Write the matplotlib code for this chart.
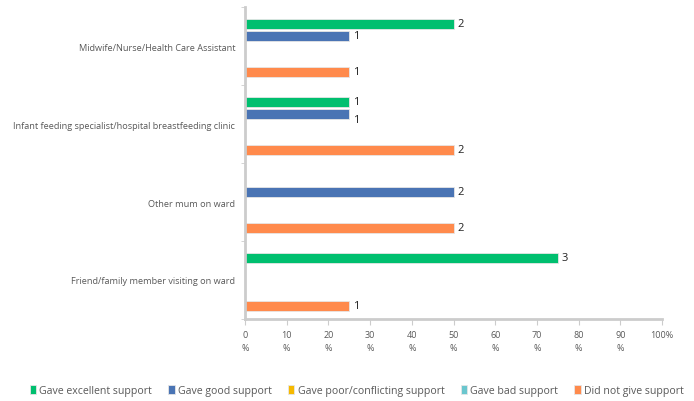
import numpy as np
import matplotlib.pyplot as plt

plt.rcParams['font.family'] = ['Open Sans', 'DejaVu Sans']

# survey answers, percent of respondents and counts
categories = ["Midwife/Nurse/Health Care Assistant",
              "Infant feeding specialist/hospital breastfeeding clinic",
              "Other mum on ward",
              "Friend/family member visiting on ward"]
series = ["Gave excellent support", "Gave good support",
          "Gave poor/conflicting support", "Gave bad support",
          "Did not give support"]
pct = {
    "Gave excellent support": [50, 25, 0, 75],
    "Gave good support": [25, 25, 50, 0],
    "Gave poor/conflicting support": [0, 0, 0, 0],
    "Gave bad support": [0, 0, 0, 0],
    "Did not give support": [25, 50, 50, 25],
}
counts = {
    "Gave excellent support": [2, 1, 0, 3],
    "Gave good support": [1, 1, 2, 0],
    "Gave poor/conflicting support": [0, 0, 0, 0],
    "Gave bad support": [0, 0, 0, 0],
    "Did not give support": [1, 2, 2, 1],
}
colors = ["#00BF6F", "#4A74B4", "#F6B900", "#6AC6CE", "#FF8A4C"]

fig = plt.figure(figsize=(6.94, 4.02), dpi=100)
ax = fig.add_axes([0.353, 0.204, 0.601, 0.776])

step = 12 / 78
height = 10 / 78
centers = np.arange(len(categories))
for j, (name, col) in enumerate(zip(series, colors)):
    ypos = centers + (j - 2) * step + 0.02
    vals = pct[name]
    ax.barh(ypos, vals, height=height, color=col, edgecolor="#e6e6e6",
            linewidth=0.6, label=name)
    for k, (v, c) in enumerate(zip(vals, counts[name])):
        if c == 0:
            continue
        dy = 0.07 if (k == 1 and j == 1) else 0
        ax.text(v + 1.0, ypos[k] + dy, str(c), va="center", ha="left",
                fontsize=8, color="#222222")

ax.set_ylim(len(categories) - 0.5, -0.5)
ax.set_xlim(0, 100)
ax.set_yticks(centers)
ax.set_yticklabels(categories, fontsize=6.6, color="#595959")
ax.set_yticks(np.arange(-0.5, len(categories)), minor=True)
ax.tick_params(axis="y", which="major", length=0, pad=7)
ax.tick_params(axis="y", which="minor", length=3, color="#cccccc")

xt = np.arange(0, 101, 10)
ax.set_xticks(xt)
ax.set_xticklabels([f"{t}\n%" for t in xt[:-1]] + ["100%"],
                   fontsize=6.5, color="#595959", linespacing=1.6,
                   va="top")
ax.tick_params(axis="x", length=4, color="#cccccc", pad=4)

for s in ["top", "right"]:
    ax.spines[s].set_visible(False)
for s in ["left", "bottom"]:
    ax.spines[s].set_color("#cccccc")
    ax.spines[s].set_linewidth(2)

handles, labels = ax.get_legend_handles_labels()
fig.legend(handles, labels, loc="center", bbox_to_anchor=(0.514, 0.026),
           ncol=5, frameon=False, fontsize=7.6, handlelength=0.6,
           handleheight=0.9, handletextpad=0.3, columnspacing=1.55,
           labelcolor="#595959")

fig.savefig("out.png", dpi=100)
